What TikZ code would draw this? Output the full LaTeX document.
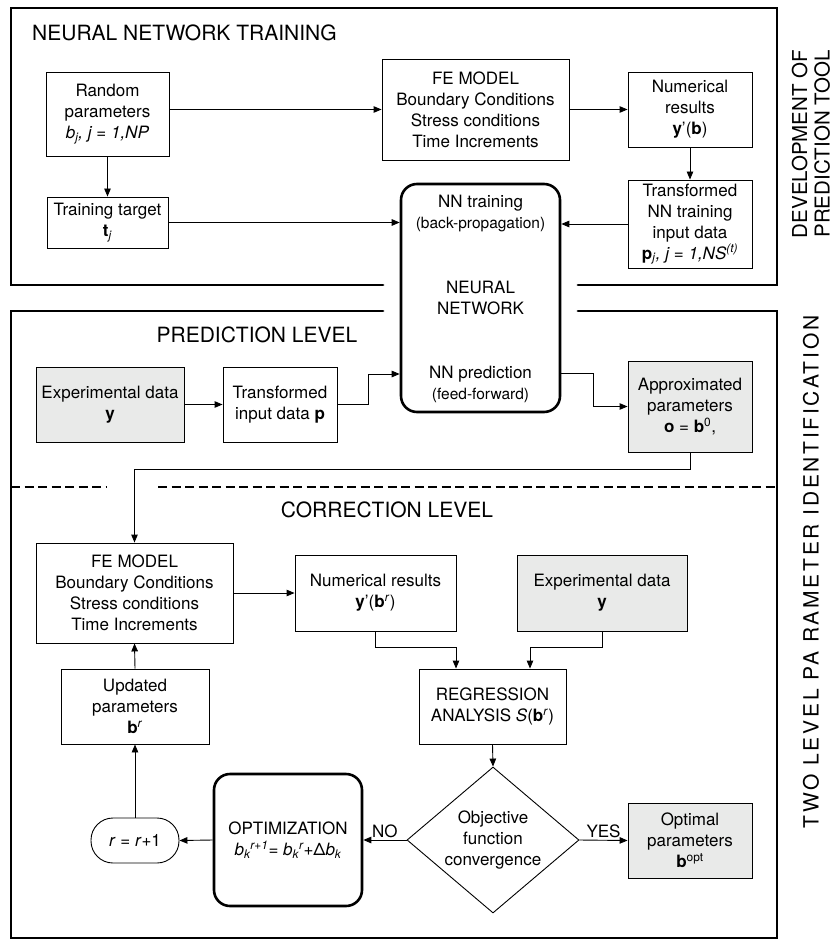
\documentclass[tikz,border=0pt]{standalone}
\usepackage{fontspec}
\setmainfont{TeX Gyre Heros}
\usetikzlibrary{arrows.meta,shapes.geometric}
\definecolor{datagray}{RGB}{233,234,233}
\begin{document}
\begin{tikzpicture}[x=1pt, y=-1pt,
  box/.style={draw, line width=0.9pt, align=center, inner sep=0pt, font=\fontsize{17}{21}\selectfont},
  databox/.style={box, fill=datagray},
  heavybox/.style={box, line width=2.6pt, rounded corners=16pt},
  framepath/.style={line width=2.8pt, line cap=round},
  arr/.style={-{Triangle[length=8pt,width=6.5pt]}, line width=0.9pt},
  head/.style={inner sep=0pt, font=\fontsize{21}{23}\selectfont},
  lbl/.style={inner sep=2pt, font=\fontsize{17}{21}\selectfont}]
\useasboundingbox (0,0) rectangle (836,941);
% Frames
\draw[framepath] (383,285) -- (11,285) -- (11,8) -- (777,8) -- (777,285) -- (578,285);
\draw[framepath] (383,311) -- (11,311) -- (11,938) -- (777,938) -- (777,311) -- (578,311);
\draw[framepath, line width=2.4pt, line cap=butt, dash pattern=on 9pt off 4.5pt] (11,487) -- (107,487);
\draw[framepath, line width=2.4pt, line cap=butt, dash pattern=on 9pt off 4.5pt] (158,487) -- (777,487);
% Headings
\node[head, anchor=west] (hdtrain) at (32,33) {NEURAL NETWORK TRAINING};
\node[head] (hdpred) at (257,335) {PREDICTION LEVEL};
\node[head] (hdcorr) at (387,510) {CORRECTION LEVEL};
\node[head, rotate=90, align=center, font=\fontsize{20.5}{22.5}\selectfont] (sidedev) at (811,144) {DEVELOPMENT OF\\PREDICTION TOOL};
\node[head, rotate=90] (sidetwo) at (811,572) {\addfontfeatures{LetterSpace=13}TWO LEVEL PA RAMETER IDENTIFICATION};
% Neural network training
\node[box, minimum width=123pt, minimum height=84pt] (rand) at (107.5,114) {Random\\parameters\\\textit{b\textsubscript{j}, j = 1,NP}};
\node[box, minimum width=121pt, minimum height=51pt] (target) at (107.5,222.5) {Training target\\\textbf{t}\textsubscript{\textit{j}}};
\node[box, minimum width=187pt, minimum height=101pt] (fetop) at (475.5,109.5) {FE MODEL\\Boundary Conditions\\Stress conditions\\Time Increments};
\node[box, minimum width=124pt, minimum height=75pt] (numtop) at (690,109.5) {Numerical\\results\\\textbf{y}'(\textbf{b})};
\node[box, minimum width=124pt, minimum height=88pt] (trnn) at (690,224) {Transformed\\NN training\\input data\\\textbf{p}\textsubscript{\textit{j}}\textit{, j = 1,NS\textsuperscript{(t)}}};
\node[heavybox, minimum width=159pt, minimum height=228pt] (nn) at (480.5,298) {};
\node[lbl, align=center] (nntrain) at ([yshift=-31pt]nn.north) {NN training\\{\fontsize{15.5}{21}\selectfont(back-propagation)}};
\node[lbl, align=center] (nnname) at (nn.center) {NEURAL\\NETWORK};
\node[lbl, align=center] (nnpred) at ([yshift=29pt]nn.south) {NN prediction\\{\fontsize{15.5}{21}\selectfont(feed-forward)}};
\coordinate (nnin) at ([yshift=-76pt]nn.west);
\coordinate (nnout) at ([yshift=-75pt]nn.east);
\draw[arr] (rand.east |- fetop.west) -- (fetop.west);
\draw[arr] (fetop.east) -- (numtop.west);
\draw[arr] (rand.south) -- (target.north);
\draw[arr] (numtop.south) -- (trnn.north);
\draw[arr] (target.east) -- (nn.west |- target.east);
\draw[arr] (trnn.west) -- (nn.east |- trnn.west);
% Prediction level
\node[databox, minimum width=148pt, minimum height=75pt] (expp) at (110,404.5) {Experimental data\\\textbf{y}};
\node[box, minimum width=114pt, minimum height=75pt] (trinp) at (280,404.5) {Transformed\\input data \textbf{p}};
\node[databox, minimum width=124pt, minimum height=91pt] (approx) at (690,406.5) {Approximated\\parameters\\\textbf{o} = \textbf{b}\textsuperscript{0},};
\draw[arr] (expp.east) -- (trinp.west);
\draw[arr] (trinp.east) -- ++(31,0) |- (nnin);
\draw[arr] (nnout) -- ++(32,0) |- (approx.west);
% Correction level
\node[box, minimum width=197pt, minimum height=100pt] (febot) at (134.5,593) {FE MODEL\\Boundary Conditions\\Stress conditions\\Time Increments};
\node[box, minimum width=161pt, minimum height=76pt] (numbot) at (375.5,593) {Numerical results\\\textbf{y}'(\textbf{b}\textsuperscript{\textit{r}})};
\node[databox, minimum width=170pt, minimum height=76pt] (expbot) at (602,593) {Experimental data\\\textbf{y}};
\node[box, minimum width=147pt, minimum height=75pt] (regr) at (492.5,706.5) {REGRESSION\\ANALYSIS \textit{S}(\textbf{b}\textsuperscript{\textit{r}})};
\node[box, diamond, aspect=1.18, minimum width=172pt, minimum height=146pt] (conv) at (493,840) {Objective\\function\\convergence};
\node[databox, minimum width=124pt, minimum height=75pt] (opt) at (690,840.5) {Optimal\\parameters\\\textbf{b}\textsuperscript{opt}};
\node[heavybox, minimum width=148pt, minimum height=132pt] (optim) at (288,840) {OPTIMIZATION\\\textit{b\textsubscript{k}\textsuperscript{r+1}= b\textsubscript{k}\textsuperscript{r}+{\upshape Δ}b\textsubscript{k}}};
\node[box, rounded corners=22pt, minimum width=88pt, minimum height=45pt] (rinc) at (135,840.5) {\textit{r} = \textit{r}+1};
\node[box, minimum width=148pt, minimum height=75pt] (upd) at (135,706.5) {Updated\\parameters\\\textbf{b}\textsuperscript{\textit{r}}};
\draw[arr] (approx.south) -- ++(0,17) -| (febot.north);
\draw[arr] (febot.east) -- (numbot.west);
\draw[arr] (numbot.south) -- ++(0,16) -| ([xshift=-36.5pt]regr.north);
\draw[arr] (expbot.south) -- ++(0,16) -| ([xshift=37.5pt]regr.north);
\draw[arr] (regr.south) -- (conv.north);
\draw[arr] (conv.east) -- node[lbl, above] (yes) {YES} (opt.west);
\draw[arr] (conv.west) -- node[lbl, above] (no) {NO} (optim.east);
\draw[arr] (optim.west) -- (rinc.east);
\draw[arr] (rinc.north) -- (upd.south);
\draw[arr] (upd.north) -- (febot.south);
\end{tikzpicture}
\end{document}
